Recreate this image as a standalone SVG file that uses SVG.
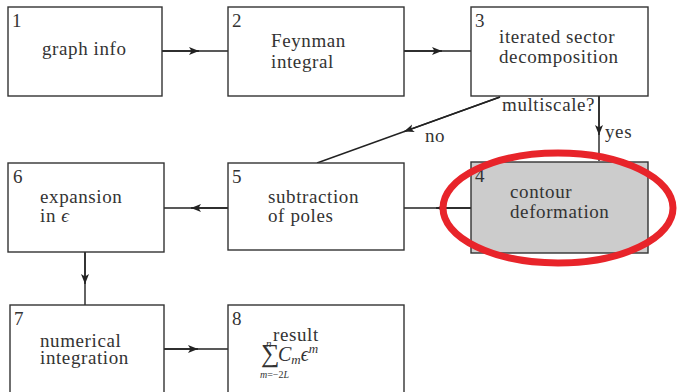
<svg xmlns="http://www.w3.org/2000/svg" width="679" height="392" viewBox="0 0 679 392">
<defs>
<style>
.box{fill:#fff;stroke:#333;stroke-width:1.4}
.grey{fill:#cccccc}
.c{fill:none;stroke:#222;stroke-width:1.4}
text{font-family:'Liberation Serif','DejaVu Serif',serif;fill:#333}
.t{font-size:19px;letter-spacing:0.6px}
.s{font-style:italic}
</style>
<marker id="ah" viewBox="0 0 10 10" refX="10" refY="5" markerWidth="10" markerHeight="10" markerUnits="userSpaceOnUse" orient="auto">
<path d="M0,1 L10,5 L0,9 L2.5,5 Z" fill="#222"/>
</marker>
</defs>
<g id="connectors">
<path class="c" d="M162,51 H228"/><path class="c" d="M162,51 H199" marker-end="url(#ah)"/>
<path class="c" d="M404,51 H471"/><path class="c" d="M404,51 H442" marker-end="url(#ah)"/>
<path class="c" d="M599,96 V161"/><path class="c" d="M599,96 V135" marker-end="url(#ah)"/>
<path class="c" d="M500,97 L317,163"/><path class="c" d="M500,97 L404,131.6" marker-end="url(#ah)"/>
<path class="c" d="M471,208 H404"/><path class="c" d="M471,208 H436" marker-end="url(#ah)"/>
<path class="c" d="M228,208 H164"/><path class="c" d="M228,208 H191" marker-end="url(#ah)"/>
<path class="c" d="M85,252 V305"/><path class="c" d="M85,252 V284" marker-end="url(#ah)"/>
<path class="c" d="M164,349 H228"/><path class="c" d="M164,349 H198" marker-end="url(#ah)"/>
<text class="t" x="502" y="111">multiscale?</text>
<text class="t" x="605" y="138">yes</text>
<text class="t" x="425" y="142">no</text>
</g>
<g id="n1"><rect class="box" x="8" y="7" width="154" height="89"/><text class="t" x="12" y="27">1</text><text class="t" x="42" y="55">graph info</text></g>
<g id="n2"><rect class="box" x="228" y="7" width="176" height="89"/><text class="t" x="232" y="27">2</text><text class="t" x="271" y="47">Feynman</text><text class="t" x="271" y="68">integral</text></g>
<g id="n3"><rect class="box" x="471" y="7" width="177" height="89"/><text class="t" x="475" y="27">3</text><text class="t" x="499" y="43">iterated sector</text><text class="t" x="499" y="63">decomposition</text></g>
<g id="n4"><rect class="box grey" x="471" y="162" width="177" height="91"/><text class="t" x="475" y="182">4</text><text class="t" x="510" y="198">contour</text><text class="t" x="510" y="218">deformation</text></g>
<g id="n5"><rect class="box" x="228" y="163" width="176" height="87"/><text class="t" x="232" y="183">5</text><text class="t" x="268" y="203">subtraction</text><text class="t" x="268" y="222">of poles</text></g>
<g id="n6"><rect class="box" x="8" y="163" width="156" height="89"/><text class="t" x="13" y="183">6</text><text class="t" x="40" y="203">expansion</text><text class="t" x="40" y="222">in <tspan font-style="italic">ϵ</tspan></text></g>
<g id="n7"><rect class="box" x="10" y="305" width="154" height="95"/><text class="t" x="14" y="325">7</text><text class="t" x="40" y="347">numerical</text><text class="t" x="40" y="364">integration</text></g>
<g id="n8"><rect class="box" x="228" y="305" width="176" height="95"/><text class="t" x="232" y="325">8</text><text class="t" x="273" y="341">result</text>
<text x="261" y="362" font-size="26">∑</text>
<text class="s" x="266" y="347" font-size="11">n</text>
<text class="s" x="260" y="378" font-size="10">m<tspan font-style="normal">=−2</tspan>L</text>
<text class="s" x="278" y="361" font-size="20">C<tspan font-size="13" dy="3">m</tspan><tspan dy="-3">ϵ</tspan><tspan font-size="13" dy="-8">m</tspan></text>
</g>
<ellipse cx="558" cy="208" rx="115" ry="55" fill="none" stroke="#e8242a" stroke-width="7"/>
</svg>
